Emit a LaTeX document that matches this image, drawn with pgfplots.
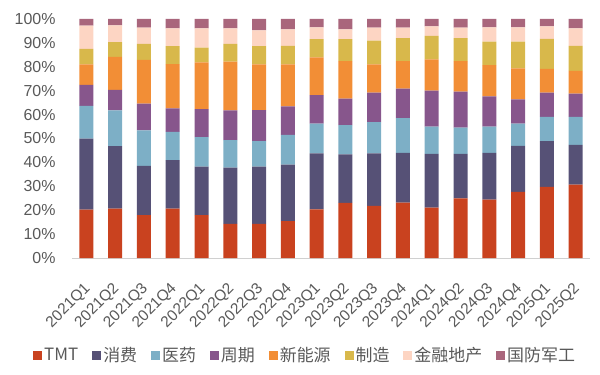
\documentclass[border=0pt]{standalone}
\usepackage{pgfplots}
\pgfplotsset{compat=1.18}
\usepackage{pgfplotstable}
\usepackage{fontspec}
\setmainfont{Liberation Sans}
\newfontfamily\cjk{Noto Sans CJK SC}
\definecolor{cTMT}{HTML}{C9421F}
\definecolor{cCons}{HTML}{565176}
\definecolor{cMed}{HTML}{7DAFC6}
\definecolor{cCyc}{HTML}{87568C}
\definecolor{cNE}{HTML}{F28E36}
\definecolor{cMfg}{HTML}{D8B84B}
\definecolor{cFin}{HTML}{FDD5C3}
\definecolor{cDef}{HTML}{A9667C}
\definecolor{txt}{HTML}{595959}
\definecolor{axl}{HTML}{D0D0D0}
\pgfplotstableread{
x TMT cons med cyc ne mfg fin def
0 20.2 29.7 13.8 8.7 8.6 6.5 9.7 2.8
1 20.7 26.1 15.0 8.5 13.9 6.1 7.0 2.7
2 17.9 20.6 14.9 11.2 18.3 6.7 6.8 3.6
3 20.7 20.3 11.8 9.8 18.5 7.6 7.4 3.9
4 17.9 20.3 12.4 11.7 19.6 6.1 8.1 3.9
5 14.3 23.5 11.5 12.5 20.4 7.4 6.5 3.9
6 14.3 23.9 10.7 13.0 19.1 7.7 6.5 4.8
7 15.4 23.7 12.4 11.9 17.6 7.8 6.9 4.3
8 20.3 23.5 12.4 12.0 15.7 7.7 4.9 3.5
9 23.1 20.3 12.2 11.1 15.7 9.2 4.1 4.3
10 21.8 22.0 13.1 12.3 11.8 9.9 5.5 3.6
11 23.2 20.8 14.5 12.4 11.5 9.6 4.4 3.6
12 21.1 22.5 11.4 15.0 13.1 9.8 4.0 3.1
13 24.9 18.7 11.0 15.0 12.8 9.6 4.4 3.6
14 24.4 19.6 11.0 12.6 13.1 9.8 6.0 3.5
15 27.7 19.2 9.3 10.2 12.9 11.2 6.0 3.5
16 29.8 19.1 10.2 10.1 9.9 12.6 5.2 3.1
17 30.7 16.6 11.8 9.7 9.5 10.5 7.3 3.9
}\datatable
\pgfplotsset{sqlegend/.style={legend image code/.code={\fill[##1] (0bp,-4.5bp) rectangle (9bp,4.5bp);}}}
\begin{document}
\begin{tikzpicture}
\useasboundingbox (-72bp,-117bp) rectangle (528bp,258bp);
\begin{axis}[
  scale only axis,
  width=518bp, height=239bp,
  ybar stacked,
  bar width=14bp,
  xmin=-0.5, xmax=17.5,
  ymin=0, ymax=100,
  axis x line*=bottom,
  axis y line*=left,
  y axis line style={draw=none},
  x axis line style={axl, line width=0.8pt},
  ytick={0,10,...,100},
  yticklabel={\pgfmathprintnumber{\tick}\%},
  ytick style={draw=none},
  xtick={0,...,17},
  xticklabels={2021Q1,2021Q2,2021Q3,2021Q4,2022Q1,2022Q2,2022Q3,2022Q4,2023Q1,2023Q2,2023Q3,2023Q4,2024Q1,2024Q2,2024Q3,2024Q4,2025Q1,2025Q2},
  major x tick style={draw=none},
  extra x ticks={-0.5,0.5,...,17.5},
  extra x tick labels={},
  extra x tick style={tick style={axl, line width=0.8pt}, major tick length=4bp, xtick align=outside},
  /pgf/number format/assume math mode=true,
  tick label style={font=\fontsize{16}{18}\selectfont, text=txt},
  yticklabel style={xshift=-13bp},
  xticklabel style={font=\fontsize{15.5}{18}\selectfont, xshift=4bp, yshift=-26bp, rotate=45, anchor=east},
  legend style={at={(0.45,-0.406)}, anchor=center, draw=none, fill=none,
    legend columns=8, font=\cjk\fontsize{17}{19}\selectfont, text=txt,
    /tikz/every even column/.append style={column sep=12bp},
    inner sep=0pt},
  legend cell align=left,
]
\addplot[fill=cTMT, draw=none, sqlegend] table[x=x, y=TMT] {\datatable};
\addplot[fill=cCons, draw=none, sqlegend] table[x=x, y=cons] {\datatable};
\addplot[fill=cMed, draw=none, sqlegend] table[x=x, y=med] {\datatable};
\addplot[fill=cCyc, draw=none, sqlegend] table[x=x, y=cyc] {\datatable};
\addplot[fill=cNE, draw=none, sqlegend] table[x=x, y=ne] {\datatable};
\addplot[fill=cMfg, draw=none, sqlegend] table[x=x, y=mfg] {\datatable};
\addplot[fill=cFin, draw=none, sqlegend] table[x=x, y=fin] {\datatable};
\addplot[fill=cDef, draw=none, sqlegend] table[x=x, y=def] {\datatable};
\legend{TMT,消费,医药,周期,新能源,制造,金融地产,国防军工}
\end{axis}
\end{tikzpicture}
\end{document}
